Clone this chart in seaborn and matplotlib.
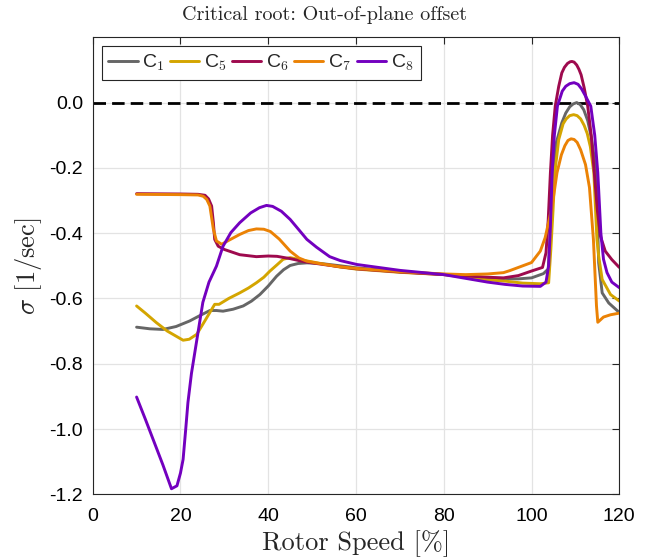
import numpy as np
import pandas as pd
import seaborn as sns
import matplotlib.pyplot as plt

# -------------------------------
# Data
# -------------------------------
c1_x = [10, 13, 16, 19, 22.1, 24.5, 26.7, 28.2, 29.7, 32, 34.3, 36.2, 38.1, 40, 41.9, 43.5,
        45, 46.8, 48.8, 52, 56.4, 60, 70, 80, 90, 93.6, 97,
        100, 102.7, 103.8, 104.3, 104.9, 105.7, 106.9, 107.8, 108.7, 109.5, 110.3, 111.1, 111.9,
        112.8, 113.6, 114.3, 114.8, 115.3, 116.1, 117.6, 120]
c1_y = [-0.688, -0.693, -0.695, -0.686, -0.669, -0.652, -0.637, -0.637, -0.639, -0.633, -0.623,
        -0.608, -0.588, -0.562, -0.532, -0.512, -0.499, -0.493, -0.491, -0.493, -0.500, -0.506,
        -0.518, -0.526, -0.537, -0.540, -0.540,
        -0.537, -0.524, -0.510, -0.400, -0.215, -0.120, -0.062, -0.032, -0.013, -0.004, 0.000,
        -0.006, -0.022, -0.055, -0.105, -0.170, -0.240, -0.491, -0.583, -0.614, -0.643]

c5_x = [10, 12, 14.5, 17, 20.6, 22, 23.7, 25.5, 27.8, 28.8, 31, 33.5, 35.5, 37.3, 39, 40.4, 42,
        43.4, 45, 48, 52, 56, 60, 70, 80, 90,
        94, 98, 102, 103.9, 104.4, 104.9, 105.3, 106.2, 107.2, 107.9, 108.7, 109.6, 110.4,
        111.2, 112, 112.7, 113.4, 114.2, 114.9, 115.3, 116.1, 118, 120]
c5_y = [-0.623, -0.645, -0.674, -0.700, -0.728, -0.725, -0.710, -0.670, -0.618, -0.618, -0.600,
        -0.583, -0.568, -0.552, -0.535, -0.516, -0.497, -0.480, -0.475, -0.483, -0.493, -0.503,
        -0.510, -0.520, -0.527, -0.543,
        -0.547, -0.553, -0.555, -0.552, -0.450, -0.330, -0.215, -0.113, -0.065, -0.050, -0.040,
        -0.037, -0.040, -0.050, -0.070, -0.095, -0.135, -0.215, -0.419, -0.470, -0.542, -0.588,
        -0.608]

c6_x = [10, 20, 24, 25.6, 26.4, 27.1, 27.5, 27.8, 28.6, 30, 33.5, 37.3, 40, 42, 45, 48, 52,
        56.4, 60, 70, 80, 90, 93.6, 97,
        100, 102.5, 103.3, 103.8, 104.3, 104.8, 105.4, 106.2, 106.9, 107.5, 108.2, 108.8, 109.2,
        109.7, 110.3, 110.8, 111.3, 112, 112.8, 113.6, 114.3, 115, 115.7, 116.8, 118.3, 120]
c6_y = [-0.279, -0.280, -0.281, -0.284, -0.295, -0.317, -0.368, -0.419, -0.440, -0.450, -0.466,
        -0.472, -0.470, -0.471, -0.478, -0.487, -0.495, -0.503, -0.509, -0.519, -0.527, -0.535,
        -0.537, -0.530,
        -0.516, -0.505, -0.460, -0.360, -0.215, -0.100, -0.011, 0.050, 0.091, 0.108, 0.120,
        0.125, 0.126, 0.124, 0.115, 0.102, 0.085, 0.045, -0.011, -0.100, -0.215, -0.330,
        -0.409, -0.455, -0.481, -0.505]

c7_x = [10, 20, 24, 25.2, 26, 26.7, 27.5, 28.2, 29.4, 31, 33.5, 35.5, 37.3, 39, 40.5, 42.5, 45,
        47, 48.8, 52, 56.4, 60, 70, 80, 85, 90, 93.6,
        95, 98, 100, 102, 103.1, 104, 104.7, 105.8, 106.8, 107.6, 108.3, 109, 109.7, 110.4,
        111.2, 112.3, 113.2, 114.1, 114.8, 115.1, 116.4, 118, 120]
c7_y = [-0.281, -0.282, -0.283, -0.287, -0.297, -0.317, -0.388, -0.424, -0.434, -0.422, -0.404,
        -0.392, -0.387, -0.388, -0.395, -0.418, -0.455, -0.476, -0.486, -0.494, -0.503, -0.508,
        -0.518, -0.525, -0.527, -0.525, -0.521,
        -0.515, -0.500, -0.490, -0.455, -0.414, -0.360, -0.317, -0.215, -0.160, -0.132, -0.116,
        -0.111, -0.113, -0.122, -0.145, -0.190, -0.260, -0.419, -0.623, -0.673, -0.657, -0.650,
        -0.645]

c8_x = [10, 12, 14, 16, 17.95, 19.2, 20, 20.6, 21.2, 21.7, 22.5, 25.1, 26.5, 28.2, 29.7, 31.5,
        33.5, 36, 38, 39.6, 41, 43, 45, 47, 48.8, 51, 54, 56.4, 60.2, 70, 80, 90,
        94, 98, 102, 103.3, 103.9, 104.3, 104.7, 105.2, 105.9, 107, 107.8, 108.7, 109.7, 110.6,
        111.4, 112.3, 113.5, 114.4, 115.1, 115.8, 116.4, 117.2, 118.3, 120]
c8_y = [-0.902, -0.970, -1.040, -1.110, -1.183, -1.174, -1.135, -1.093, -1.000, -0.919, -0.830,
        -0.612, -0.550, -0.501, -0.440, -0.398, -0.368, -0.338, -0.322, -0.315, -0.318, -0.333,
        -0.358, -0.390, -0.419, -0.443, -0.472, -0.484, -0.496, -0.514, -0.527, -0.550,
        -0.557, -0.562, -0.563, -0.550, -0.500, -0.380, -0.215, -0.100, -0.011, 0.035, 0.050,
        0.058, 0.061, 0.056, 0.042, 0.020, -0.011, -0.100, -0.215, -0.400, -0.480, -0.521,
        -0.550, -0.567]

labels = ["C1", "C5", "C6", "C7", "C8"]
legend_labels = [r"C$_\mathsf{1}$", r"C$_\mathsf{5}$", r"C$_\mathsf{6}$",
                 r"C$_\mathsf{7}$", r"C$_\mathsf{8}$"]
colors = ["#666666", "#D4A500", "#9E0A4E", "#EB8205", "#7300BF"]

series = {
    "C1": (c1_x, c1_y),
    "C5": (c5_x, c5_y),
    "C6": (c6_x, c6_y),
    "C7": (c7_x, c7_y),
    "C8": (c8_x, c8_y),
}
frames = []
for name in labels:
    xs, ys = series[name]
    frames.append(pd.DataFrame({"speed": xs, "sigma": ys, "root": name}))
df = pd.concat(frames, ignore_index=True)

# -------------------------------
# Style
# -------------------------------
sns.set_theme(style="white")
plt.rcParams["font.family"] = ["Liberation Sans", "DejaVu Sans"]
plt.rcParams["mathtext.fontset"] = "cm"

fig = plt.figure(figsize=(6.48, 5.58), dpi=100)
ax = fig.add_axes([92.7 / 648, (558 - 494.3) / 558, (619.3 - 92.7) / 648, (494.3 - 37.3) / 558])

ax.grid(True, color="#e3e3e3", lw=0.9)
ax.set_axisbelow(True)

ax.axhline(0, color="black", ls=(0, (4.5, 2.2)), lw=2, zorder=1)

sns.lineplot(data=df, x="speed", y="sigma", hue="root", palette=dict(zip(labels, colors)),
             estimator=None, sort=False, lw=2.1, ax=ax, legend=False, zorder=3)

ax.set_xlim(0, 120)
ax.set_ylim(-1.2, 0.2)
ax.set_xticks(np.arange(0, 121, 20))
ax.set_yticks(np.arange(-1.2, 0.01, 0.2))
ax.set_yticklabels(["-1.2", "-1.0", "-0.8", "-0.6", "-0.4", "-0.2", "0.0"])
ax.tick_params(direction="in", length=5, width=0.8, color="#262626", labelsize=14,
               top=True, right=True, labelcolor="black")
ax.tick_params(axis="x", pad=10)
ax.tick_params(axis="y", pad=7)
for sp in ax.spines.values():
    sp.set_color("#262626")
    sp.set_linewidth(0.8)

# title is centred on the figure, not the axes
fig.text(0.5, 1 - 20 / 558, "Critical root: Out-of-plane offset", fontfamily="cmr10",
         fontsize=14.5, ha="center", va="baseline")
ax.set_xlabel("Rotor Speed [%]", fontfamily="cmr10", fontsize=19, labelpad=4)
ax.set_ylabel(r"$\sigma$ [1/sec]", fontfamily="cmr10", fontsize=19, labelpad=4)

handles = [plt.Line2D([], [], color=c, lw=2.1) for c in colors]
leg = ax.legend(handles, legend_labels, loc="upper left", bbox_to_anchor=(0.017, 0.981),
                borderaxespad=0, ncol=5, fontsize=14, handlelength=1.5, handletextpad=0.25,
                columnspacing=0.25, fancybox=False, framealpha=1, edgecolor="#262626",
                borderpad=0.35)
leg.get_frame().set_linewidth(0.8)

fig.savefig("out.png", dpi=100)
